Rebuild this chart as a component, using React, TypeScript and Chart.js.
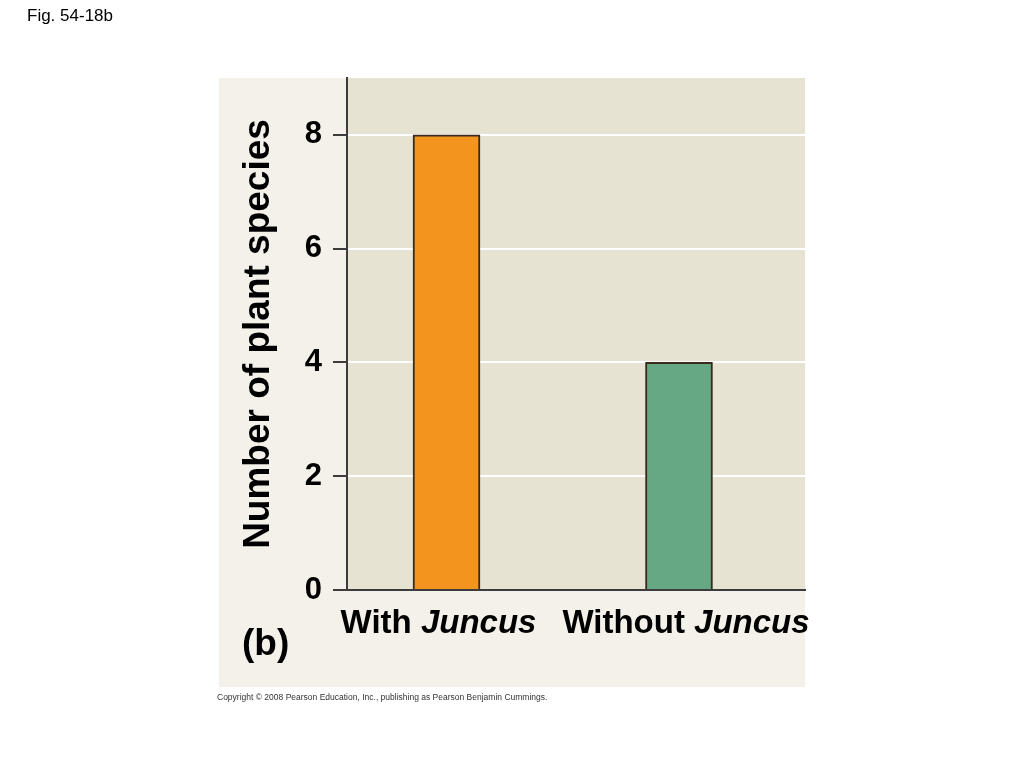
import React, { useEffect, useRef } from "react";
import { Chart, registerables } from "chart.js";

Chart.register(...registerables);

const categoryPrefixes = ["With ", "Without "];
const categoryItalics = ["Juncus", "Juncus"];
const speciesCounts = [8, 4];
const barColors = ["#f3941f", "#66a784"];
const yTickValues = [0, 2, 4, 6, 8];
const yAxisTitle = "Number of plant species";
const figureLabel = "Fig. 54-18b";
const panelLabel = "(b)";
const copyrightText =
  "Copyright \u00a9 2008 Pearson Education, Inc., publishing as Pearson Benjamin Cummings.";

const FONT = "'Liberation Sans', Arial, Helvetica, sans-serif";
const LABEL_SHIFT = [-8, 7];

const decorPlugin = {
  id: "decor",
  beforeDraw(chart: any) {
    const { ctx, chartArea } = chart;
    const { left, right, top, bottom } = chartArea;
    ctx.save();
    ctx.fillStyle = "#ffffff";
    ctx.fillRect(0, 0, chart.width, chart.height);
    ctx.fillStyle = "#f3f1ea";
    ctx.fillRect(left - 128, top, right - left + 128, bottom - top + 97);
    ctx.fillStyle = "#e6e3d3";
    ctx.fillRect(left, top, right - left, bottom - top);
    ctx.restore();
  },
  afterDraw(chart: any) {
    const { ctx, chartArea, scales } = chart;
    const xs = scales.x;
    ctx.save();
    ctx.fillStyle = "#000000";
    ctx.textBaseline = "alphabetic";
    categoryPrefixes.forEach((pre, i) => {
      const it = categoryItalics[i];
      ctx.font = `bold 33px ${FONT}`;
      const w1 = ctx.measureText(pre).width;
      ctx.font = `italic bold 33px ${FONT}`;
      const w2 = ctx.measureText(it).width;
      const cx = xs.getPixelForValue(i) + LABEL_SHIFT[i];
      const x0 = cx - (w1 + w2) / 2;
      ctx.textAlign = "left";
      ctx.font = `bold 33px ${FONT}`;
      ctx.fillText(pre, x0, chartArea.bottom + 43);
      ctx.font = `italic bold 33px ${FONT}`;
      ctx.fillText(it, x0 + w1, chartArea.bottom + 43);
    });
    ctx.textAlign = "left";
    ctx.font = `bold 37px ${FONT}`;
    ctx.fillText(panelLabel, chartArea.left - 105, chartArea.bottom + 65);
    ctx.font = `17px ${FONT}`;
    ctx.fillText(figureLabel, 27, 21);
    ctx.fillStyle = "#333333";
    ctx.font = `8.5px ${FONT}`;
    ctx.fillText(copyrightText, chartArea.left - 130, chartArea.bottom + 110);
    ctx.restore();
  },
};

export default function App() {
  const canvasRef = useRef<HTMLCanvasElement | null>(null);

  useEffect(() => {
    const canvas = canvasRef.current;
    if (!canvas) return;
    const chart = new Chart(canvas, {
      type: "bar",
      data: {
        datasets: [
          {
            data: speciesCounts.map((v, i) => ({ x: i, y: v })),
            backgroundColor: barColors,
            borderColor: "#3a2a1c",
            borderWidth: 2,
            barThickness: 67,
          },
        ],
      },
      options: {
        responsive: false,
        animation: false,
        events: [],
        layout: { padding: { left: 219, right: 219, top: 78, bottom: 178 } },
        plugins: {
          legend: { display: false },
          tooltip: { enabled: false },
          title: { display: false },
        },
        scales: {
          x: {
            type: "linear",
            offset: false,
            min: -0.428,
            max: 1.542,
            ticks: { display: false },
            grid: { display: false, drawTicks: false, offset: false },
            border: { display: true, color: "#3c3c3c", width: 2 },
            afterFit: (s: any) => {
              s.height = 0;
            },
          },
          y: {
            min: 0,
            max: 9,
            afterBuildTicks: (s: any) => {
              s.ticks = yTickValues.map((v) => ({ value: v }));
            },
            afterFit: (s: any) => {
              s.width = 128;
            },
            ticks: {
              color: "#000000",
              padding: 11,
              font: { family: FONT, size: 31, weight: "bold" },
            },
            grid: {
              color: (c: any) => (c.tick && c.tick.value === 0 ? "rgba(0,0,0,0)" : "#ffffff"),
              lineWidth: 2,
              drawTicks: true,
              tickLength: 14,
              tickColor: "#3c3c3c",
              tickWidth: 2,
            },
            border: { display: true, color: "#3c3c3c", width: 2 },
            title: {
              display: true,
              text: yAxisTitle,
              color: "#000000",
              padding: { top: 18, bottom: 0 },
              font: { family: FONT, size: 37, weight: "bold" },
            },
          },
        },
      },
      plugins: [decorPlugin],
    });
    return () => chart.destroy();
  }, []);

  return (
    <div style={{ position: "absolute", left: 0, top: 0, width: 1024, height: 768 }}>
      <canvas ref={canvasRef} width={1024} height={768} style={{ display: "block" }} />
    </div>
  );
}
